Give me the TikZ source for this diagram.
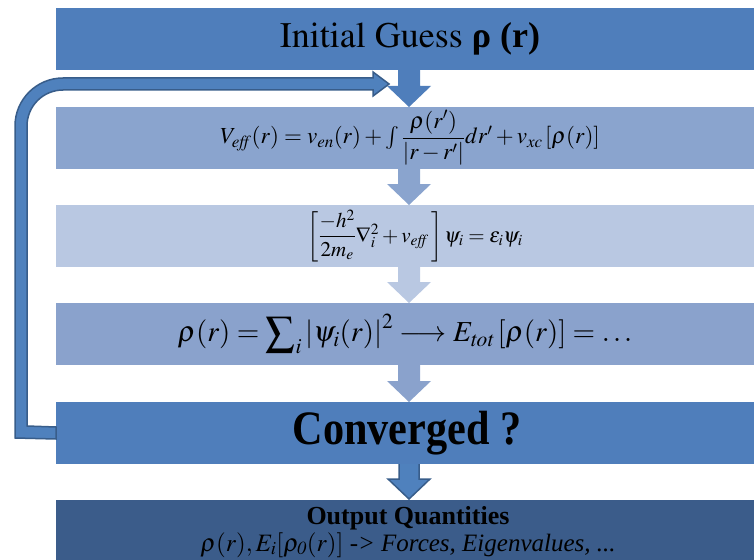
\documentclass[tikz,border=0pt]{standalone}
\usepackage{amsmath}
\usepackage{graphicx}
\usepackage{mathptmx}
\usepackage[no-math]{fontspec}
\setmainfont{Liberation Serif}
\newcommand{\policeTitre}{\fontencoding{OT1}\fontfamily{ptm}\selectfont}
\usetikzlibrary{calc,positioning}

\definecolor{bleuA}{HTML}{4F7EBB}
\definecolor{bleuB}{HTML}{8AA4CE}
\definecolor{bleuC}{HTML}{B9C8E2}
\definecolor{bleuD}{HTML}{8AA2CC}
\definecolor{bleuE}{HTML}{3B5C8A}
\definecolor{bleuF}{HTML}{4F81BD}
\definecolor{bordF}{HTML}{385D8A}

\tikzset{
	boite/.style={minimum width=698pt, minimum height=62pt, inner sep=0pt, outer sep=0pt},
	boucle/.style={fill=bleuF, draw=bordF, line width=1.5pt},
}

\begin{document}
\begin{tikzpicture}[x=1pt,y=-1pt]
		% cadre : coordonnees en pixels, y vers le bas
		\useasboundingbox (0,0) rectangle (754,559);
		\pgfmathsetmacro{\decal}{4}    % decalage des fleches par rapport au centre
		\pgfmathsetmacro{\tige}{11}    % demi-largeur de la tige
		\pgfmathsetmacro{\tete}{22}    % demi-largeur de la pointe
		\pgfmathsetmacro{\pointe}{21}  % longueur de la pointe

		% boites de l'algorithme
		\node[boite, fill=bleuA, label={[font=\fontsize{36}{40}\selectfont, xshift=5pt]center:{{\policeTitre Initial Guess} \textbf{ρ (r)}}}] (init) at (405,39) {};
		\node[boite, fill=bleuB, below=37pt of init, label={[font=\fontsize{23}{26}\selectfont, xshift=5pt]center:{$V_{\mathit{eff}}(r)=v_{\mathit{en}}(r)+\int\dfrac{\rho(r')}{\left|r-r'\right|}dr'+v_{\mathit{xc}}\left[\rho(r)\right]$}}] (veff) {};
		\node[boite, fill=bleuC, below=36pt of veff, label={[font=\fontsize{21}{24}\selectfont, xshift=10pt]center:{$\left[\dfrac{-h^2}{2m_e}\nabla_i^2+v_{\mathit{eff}}\,\right]\psi_i=\varepsilon_i\psi_i$}}] (ks) {};
		\node[boite, fill=bleuD, below=36pt of ks, label={[font=\fontsize{29}{34}\selectfont]center:{$\rho(r)=\displaystyle\sum\nolimits_i\left|\psi_i(r)\right|^2\longrightarrow E_{\mathit{tot}}\left[\rho(r)\right]=\ldots$}}] (dens) {};
		\node[boite, fill=bleuA, below=37pt of dens, label={[xshift=2pt]center:{\scalebox{0.88}[1]{\fontsize{48}{50}\selectfont\bfseries Converged ?}}}] (conv) {};
		\node[boite, fill=bleuE, below=36pt of conv, label={[align=center, xshift=3pt, yshift=-1pt]center:{\fontsize{26}{28}\selectfont\bfseries Output Quantities\\[1pt]
			\fontsize{25}{26}\selectfont\itshape $\rho(r), E_i[\rho_{\mathit{0}}(r)]$ -> Forces, Eigenvalues, ...}}] (sortie) {};

		% fleches pleines entre les boites
		\foreach \haut/\bas/\coul in {init/veff/bleuA, veff/ks/bleuB, ks/dens/bleuC, dens/conv/bleuD}{%
			\fill[\coul] ($(\haut.south)+(\decal-\tige,0)$) -- ($(\bas.north)+(\decal-\tige,-\pointe)$)
				-- ($(\bas.north)+(\decal-\tete,-\pointe)$) -- ($(\bas.north)+(\decal,0)$)
				-- ($(\bas.north)+(\decal+\tete,-\pointe)$) -- ($(\bas.north)+(\decal+\tige,-\pointe)$)
				-- ($(\haut.south)+(\decal+\tige,0)$) -- cycle;
		}

		% fleche contouree vers la sortie
		\filldraw[boucle] ($(conv.south)+(\decal-10,0)$) -- ($(sortie.north)+(\decal-10,-\pointe)$)
			-- ($(sortie.north)+(\decal-\tete+1,-\pointe)$) -- ($(sortie.north)+(\decal,-1)$)
			-- ($(sortie.north)+(\decal+\tete-1,-\pointe)$) -- ($(sortie.north)+(\decal+10,-\pointe)$)
			-- ($(conv.south)+(\decal+10,0)$);

		% boucle de retour (non converge)
		\coordinate (retour) at (389,84);
		\filldraw[boucle] ($(conv.west)+(0,6)$) -- (15,438) -- (15,126)
			arc[start angle=180, end angle=270, radius=48]
			-- ($(retour)+(-16,-6)$) -- ($(retour)+(-16,-12)$) -- (retour)
			-- ($(retour)+(-16,12)$) -- ($(retour)+(-16,6)$) -- (63,90)
			arc[start angle=270, end angle=180, radius=36]
			-- (27,426) -- ($(conv.west)+(0,-6)$) -- cycle;
\end{tikzpicture}
\end{document}
